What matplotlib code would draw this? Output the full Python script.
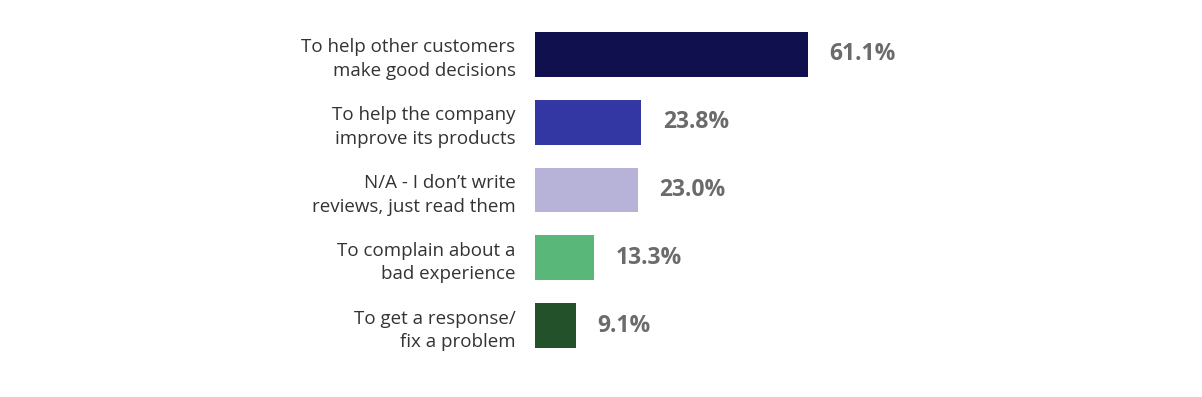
import matplotlib
matplotlib.use("Agg")
import matplotlib.pyplot as plt

categories = [
    "To help other customers\nmake good decisions",
    "To help the company\nimprove its products",
    "N/A - I don\u2019t write\nreviews, just read them",
    "To complain about a\nbad experience",
    "To get a response/\nfix a problem",
]
values = [61.1, 23.8, 23.0, 13.3, 9.1]
value_labels = ["61.1%", "23.8%", "23.0%", "13.3%", "9.1%"]
colors = ["#10104f", "#3337a3", "#b6b2d8", "#5ab77a", "#235129"]

fig = plt.figure(figsize=(12.02, 3.97), dpi=100)
ax = fig.add_axes([535/1202, (397-359.4)/397, 447/1202, 338.8/397])
ypos = list(range(len(categories)))
ax.barh(ypos, values, height=0.664, color=colors)
ax.set_xlim(0, 100)
ax.set_ylim(len(categories) - 0.5, -0.5)
ax.set_yticks(ypos)
ax.set_yticklabels(categories, fontsize=13.5, color="#333333", family=["Open Sans", "DejaVu Sans"],
                   linespacing=1.4)
ax.tick_params(axis="y", length=0, pad=14)
ax.set_xticks([])
for s in ax.spines.values():
    s.set_visible(False)
for y, v, lab in zip(ypos, values, value_labels):
    ax.annotate(lab, (v, y), xytext=(15.5, 0), textcoords="offset points",
                ha="left", va="center", fontsize=16.5, fontweight="bold",
                color="#6b6b6b", family=["Open Sans", "DejaVu Sans"])
fig.savefig("out.png", dpi=100)
